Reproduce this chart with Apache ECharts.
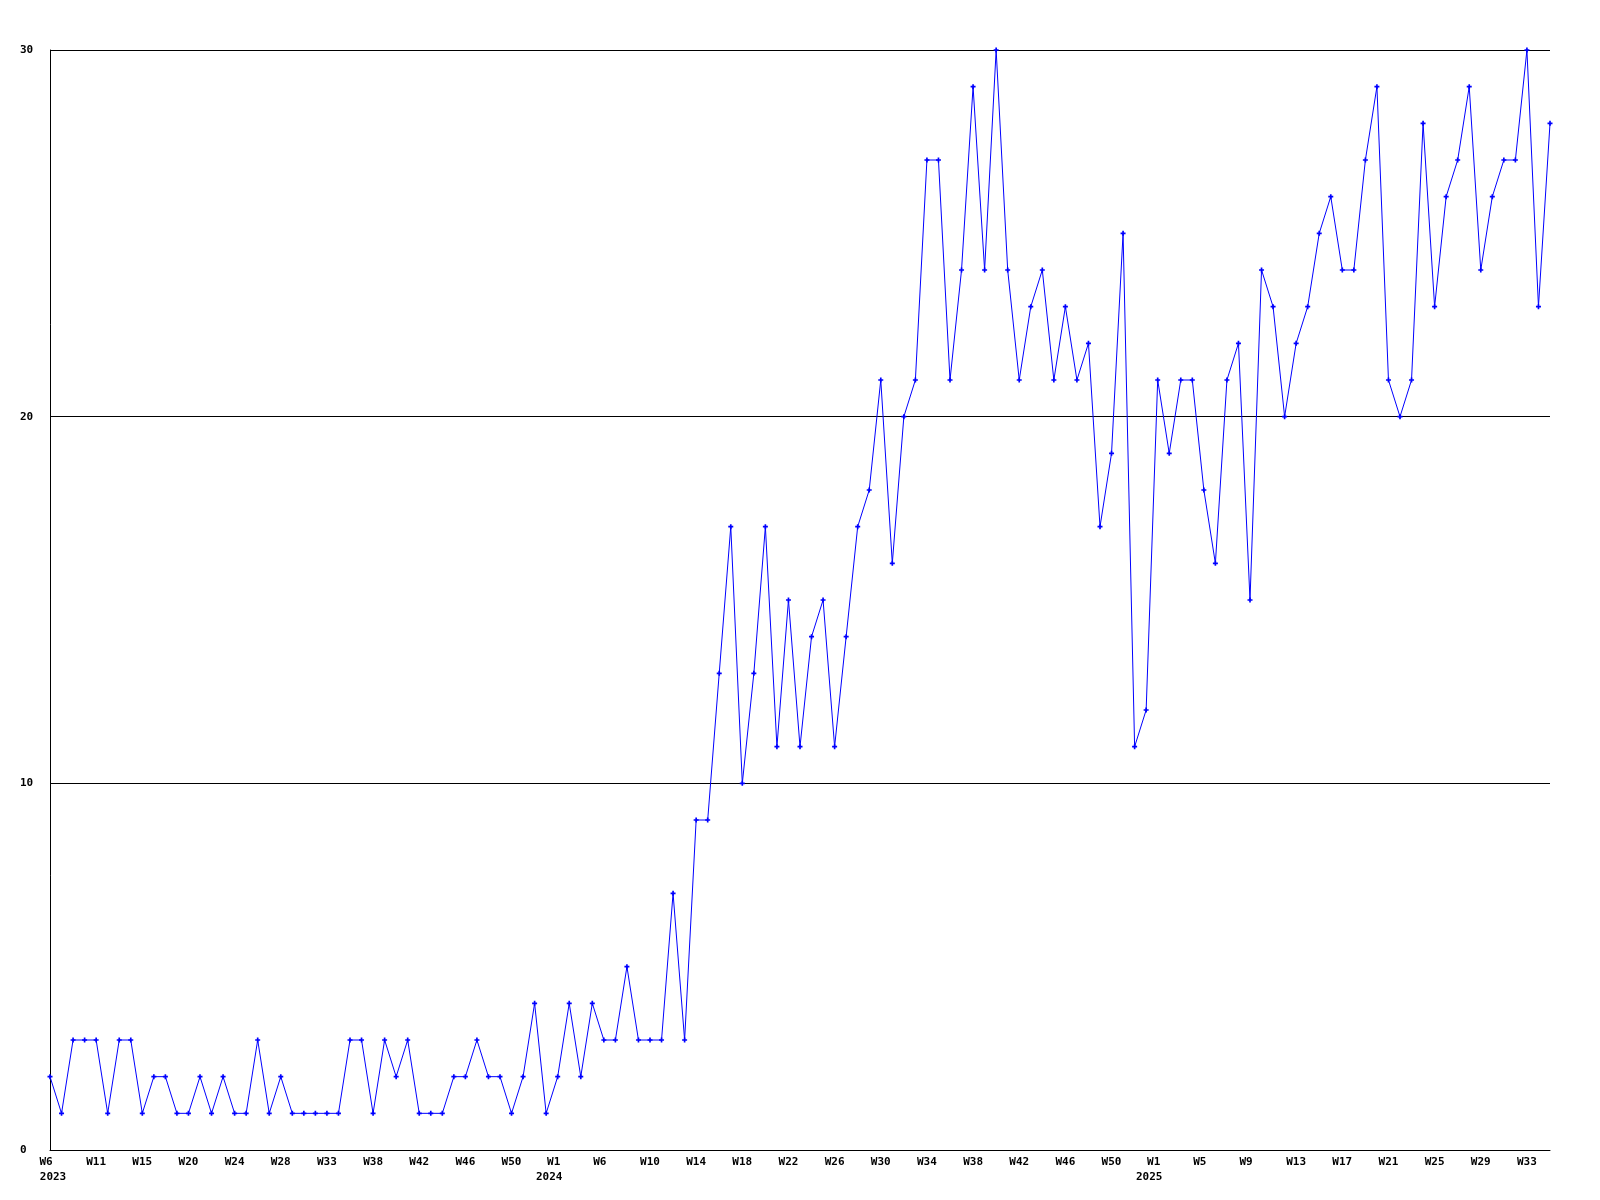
<!DOCTYPE html>
<html>
<head>
<meta charset="utf-8">
<script src="https://cdn.jsdelivr.net/npm/echarts@6/dist/echarts.min.js"></script>
<style>
html,body{margin:0;padding:0;background:#fff;}
#c{width:1600px;height:1200px;}
</style>
</head>
<body>
<div id="c"></div>
<script>
// Weekly values, 2023 W6 .. 2025 (131 points)
const values = [
  2,1,3,3,3,1,3,3,1,2,
  2,1,1,2,1,2,1,1,3,1,
  2,1,1,1,1,1,3,3,1,3,
  2,3,1,1,1,2,2,3,2,2,
  1,2,4,1,2,4,2,4,3,3,
  5,3,3,3,7,3,9,9,13,17,
  10,13,17,11,15,11,14,15,11,14,
  17,18,21,16,20,21,27,27,21,24,
  29,24,30,24,21,23,24,21,23,21,
  22,17,19,25,11,12,21,19,21,21,
  18,16,21,22,15,24,23,20,22,23,
  25,26,24,24,27,29,21,20,21,28,
  23,26,27,29,24,26,27,27,30,23,
  28
];
// Tick labels shown every 4th point
const tickLabels = ["W6","W11","W15","W20","W24","W28","W33","W38","W42","W46","W50",
  "W1","W6","W10","W14","W18","W22","W26","W30","W34","W38","W42","W46","W50",
  "W1","W5","W9","W13","W17","W21","W25","W29","W33"];
// Year sub-labels at given tick label positions
const yearLabels = {0:"2023", 11:"2024", 24:"2025"};
const yTicks = [0,10,20,30];

const categories = values.map((v,i)=>String(i));

const chart = echarts.init(document.getElementById('c'), null, {renderer:'canvas'});
const font = {fontFamily:'DejaVu Sans Mono', fontWeight:'bold', fontSize:11, color:'#000'};
function rs(pad){ return Object.assign({}, font, {align:'center', lineHeight:15, padding:pad}); }
chart.setOption({
  animation:false,
  backgroundColor:'#fff',
  grid:{left:50, right:50, top:50, bottom:50, containLabel:false},
  xAxis:{
    type:'category',
    data:categories,
    boundaryGap:false,
    axisLine:{show:true, lineStyle:{color:'#000', width:1}},
    axisTick:{show:false},
    splitLine:{show:false},
    axisLabel:Object.assign({}, font, {
      interval:3,
      margin:5,
      lineHeight:15,
      formatter:function(val, idx){
        if (idx % 4 !== 0) return '';
        const k = idx/4;
        const t = tickLabels[k];
        if (t === undefined) return '';
        let s = '{' + (t.length < 3 ? 'w2' : 'w3') + '|' + t + '}';
        if (yearLabels[k]) s += '\n{' + (k === 0 ? 'y0' : 'y') + '|' + yearLabels[k] + '}';
        return s;
      },
      rich:{
        w3: rs([0,0,0,0]),
        w2: rs([0,8,0,0]),
        y:  rs([0,17,0,0]),
        y0: rs([0,0,0,6])
      }
    })
  },
  yAxis:{
    type:'value',
    min:yTicks[0], max:yTicks[yTicks.length-1], interval:10,
    axisLine:{show:true, lineStyle:{color:'#000', width:1}},
    axisTick:{show:false},
    splitLine:{show:true, lineStyle:{color:'#000', width:1}},
    axisLabel:Object.assign({}, font, {align:'left', margin:30})
  },
  series:[{
    type:'line',
    data:values,
    lineStyle:{color:'#0000ff', width:1},
    itemStyle:{color:'#0000ff'},
    symbol:'path://M1,0H2V1H3V2H2V3H1V2H0V1H1Z',
    symbolSize:5,
    showSymbol:true,
    showAllSymbol:true
  }]
});
</script>
</body>
</html>
